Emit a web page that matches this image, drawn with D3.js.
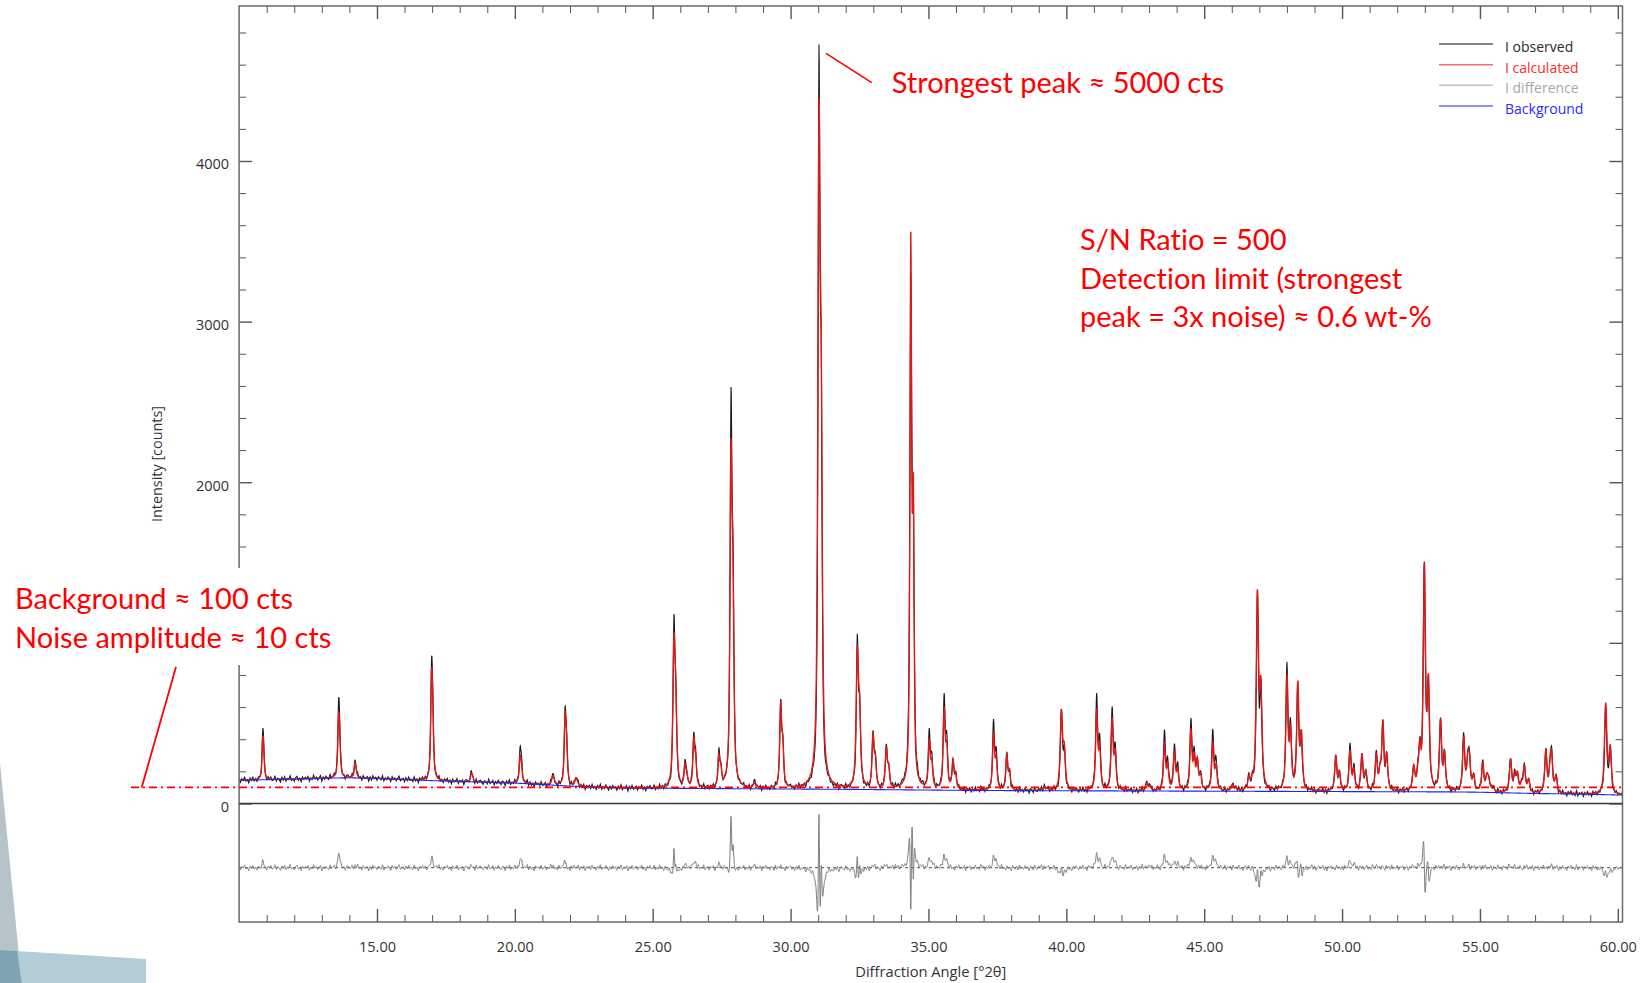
<!DOCTYPE html>
<html>
<head>
<meta charset="utf-8">
<script src="https://cdn.jsdelivr.net/npm/d3@7"></script>
<style>
  html, body { margin: 0; padding: 0; background: #fff; }
  svg { display: block; }
  text { font-variant-ligatures: none; font-feature-settings: "liga" 0; }
</style>
</head>
<body>
<svg id="chart" width="1645" height="983"></svg>
<script>
// ---- Reflections: position (°2θ), observed and calculated peak tops (counts) ----
const peakPos = [10.86, 13.61, 14.20, 16.98, 18.42, 20.19, 21.37, 21.82, 22.21, 25.77,
                 26.17, 26.49, 27.40, 27.84, 28.68, 29.64, 31.03, 32.42, 32.99, 33.47,
                 34.36, 35.03, 35.57, 35.89, 37.36, 37.84, 39.20, 39.82, 41.10, 41.66,
                 42.92, 43.56, 43.92, 44.52, 44.75, 45.31, 46.02, 46.62, 46.93, 48.00,
                 48.39, 49.77, 50.29, 50.72, 51.24, 51.48, 52.60, 52.82, 52.98, 53.57,
                 54.41, 54.62, 55.10, 55.32, 56.11, 56.36, 56.61, 57.39, 57.60, 59.56];
const obsTop  = [451, 659, 266, 904, 198, 358, 182, 603, 167, 1180,
                 271, 462, 333, 2592, 136, 640, 4729, 1060, 458, 370,
                 3305, 474, 690, 279, 520, 312, 111, 586, 686, 617,
                 146, 453, 379, 537, 300, 464, 126, 188, 1319, 873,
                 758, 302, 379, 312, 323, 520, 250, 416, 1505, 541,
                 431, 330, 266, 170, 288, 200, 244, 344, 337, 603];
const calcTop = [416, 565, 250, 842, 188, 302, 173, 572, 160, 1060,
                 250, 416, 312, 2272, 130, 634, 4393, 987, 447, 354,
                 3560, 406, 603, 279, 447, 312, 105, 586, 593, 540,
                 130, 375, 333, 468, 290, 385, 120, 180, 1333, 806,
                 769, 302, 333, 312, 315, 515, 240, 400, 1495, 530,
                 420, 320, 260, 170, 280, 200, 240, 340, 330, 628];
// Refinement misfit of the calculated profile: position offset (°) and width factor
const calcShift = [0, 0, 0, 0, 0, 0, 0, 0.004, 0, 0,
                   0, 0, 0, 0, 0, 0, 0, 0, 0, 0,
                   0, 0, 0, 0, 0, 0, 0, 0, 0, 0,
                   0, 0, 0, 0, 0, 0, 0, 0, 0, 0,
                   0.006, 0, 0, 0, 0, 0, 0, 0, 0.009, 0,
                   0, 0, 0, 0, 0, 0, 0, 0, 0, 0];
const calcBroad = [1, 1, 1, 1, 1, 1, 1, 1, 1, 1.2,
                   1, 1, 1, 1.1, 1, 1, 1.2, 1.2, 1, 1,
                   0.85, 1, 1, 1, 1, 1, 1, 1.15, 1, 1,
                   1, 1, 1, 1, 1, 1, 1, 1, 1.12, 1,
                   1, 1, 1, 1, 1, 1, 1, 1, 1, 1,
                   1, 1, 1, 1, 1, 1, 1, 1, 1, 1.1];

// ---- Refined background (°2θ, counts) ----
const bgAngle  = [10.0, 11, 12, 13, 14, 15, 16, 17, 18, 19, 20, 21, 22, 23, 24, 25, 26, 28, 30,
                  32, 34, 36, 38, 40, 42, 44, 46, 48, 50, 52, 54, 55, 56, 57, 58, 59, 60.17];
const bgCounts = [145, 148, 152, 157, 160, 156, 149, 142, 137, 132, 127, 118, 108, 101, 97, 95, 94, 92, 90,
                  88, 85, 82, 80, 79, 78, 77, 76, 75, 74, 73, 72, 70, 66, 62, 60, 57, 52];

// ---- Counting-statistics residual of the measurement, 0.05° steps from 10.0 °2θ (counts) ----
const residual = [
  6,-14,9,-3,17,-8,2,-19,11,-5,14,-10,4,-16,8,1,-12,20,-7,3,-15,10,-2,13,-9,
  -4,18,-11,7,-1,-17,12,-6,15,-13,5,-3,21,-9,0,-14,8,16,-10,4,-18,11,-5,9,-2,
  13,-16,3,-8,19,-4,7,-12,1,15,-20,6,-9,10,-3,-13,17,-6,2,12,-15,8,-1,-11,14,
  -7,4,-18,9,11,-5,-2,16,-14,3,-10,20,-8,5,-16,13,-4,0,9,-19,7,-12,15,-3,6,
  -13,10,2,-9,18,-15,5,-6,12,-1,-17,14,-4,8,-11,3,19,-10,-2,7,-14,11,-7,16,-5,
  1,-12,17,-8,4,-20,9,-3,13,-6,10,-15,2,6,-9,15,-13,-1,11,-4,18,-11,3,-16,8,
  -2,14,-10,5,-18,12,-7,1,16,-14,4,-5,9,-21,7,10,-3,-12,13,-6,2,-17,15,-9,6,
  11,-4,-15,8,3,-11,19,-8,-1,12,-16,6,-7,14,-2,-13,9,4,-19,10,-5,17,-12,2,-8,
  15,-6,7,-17,1,13,-10,5,-3,18,-14,9,-11,4,-20,12,-2,6,-9,16,-7,-4,11,-15,3,
  -9,20,-5,10,-13,2,-16,14,-8,7,-1,-12,17,-3,5,-18,11,-6,13,-10,1,15,-14,8,-4,
  12,-19,6,-2,9,-11,16,-7,3,-15,10,-5,19,-13,4,-8,14,-1,-17,7,-10,12,-3,5,-16,
  9,-7,18,-12,2,-4,13,-20,8,-6,15,-9,1,11,-14,6,-3,17,-11,4,-18,10,-1,14,-8,
  -5,16,-13,3,-9,19,-6,7,-15,12,-2,-10,8,-17,14,-4,5,-12,20,-7,1,-14,9,-3,11,
  -16,6,-8,13,-1,-19,10,-5,15,-11,4,-7,18,-13,2,9,-15,7,-3,12,-20,5,-9,16,-6,
  3,-11,14,-4,8,-17,11,-2,-13,19,-8,6,-14,10,-5,1,16,-12,4,-9,13,-16,7,-1,18,
  -10,5,-6,12,-18,9,-3,15,-7,2,-14,11,-1,-16,17,-9,6,-4,13,-12,3,-19,10,-5,8,
  14,-8,1,-15,11,-6,20,-10,4,-3,9,-17,13,-2,7,-12,15,-5,-9,18,-14,2,-7,12,-1,
  -18,10,-4,16,-9,3,-13,8,-6,14,-20,6,11,-3,-11,17,-7,1,-15,9,-2,13,-10,5,-16,
  7,-3,19,-12,5,-8,12,-17,2,10,-6,15,-14,4,-1,-18,11,-9,16,-4,8,-13,3,-7,14,
  -12,17,-5,9,-15,1,13,-8,6,-19,11,-2,-10,16,-6,3,-14,20,-11,7,-4,12,-16,2,-9,
  10,-15,4,-7,18,-13,8,-1,-11,14,-5,9,-18,6,2,-12,15,-8,3,-16,11,-3,17,-10,5,
  -6,13,-19,7,-2,11,-14,4,-9,16,-7,1,-13,19,-4,10,-17,5,-8,12,-1,-15,9,-5,15,
  -3,8,-12,18,-9,2,-16,12,-6,5,-20,14,-1,-10,9,-14,17,-7,4,-11,13,-4,6,-18,10,
  2,-14,16,-5,-8,12,-3,19,-15,7,-9,1,14,-12,5,-6,18,-10,3,-17,8,-2,11,-13,4,
  -11,15,-7,3,-17,10,-4,13,-2,-14,8,-6,16,-9,1,-19,12,-3,7,-12,17,-8,2,-15,9,
  6,-5,-13,17,-10,4,-1,14,-18,8,-7,11,-3,-16,13,-5,2,-12,19,-9,5,-2,15,-14,3,
  -8,12,-16,6,-4,20,-11,7,-2,-15,10,-6,14,-13,3,-9,16,-1,-18,9,-5,11,-12,4,-17,
  13,-2,8,-14,5,-10,17,-6,-3,12,-19,9,-8,15,-4,1,-13,18,-7,6,-16,10,-1,14,-11,
  4,-18,11,-3,9,-12,2,-7,19,-15,6,-1,13,-9,-5,16,-14,8,-2,10,-20,12,-6,3,-10,
  17,-9,5,-16,1,14,-11,7,-4,-13,18,-6,3,-8,11,-17,9,-2,15,-12,4,-5,13,-19,7,
  -1,-12,16,-7,10,-3,-15,12,-9,2,8,-18,14,-5,6,-11,19,-13,1,-4,11,-16,7,-8,13,
  -14,5,-2,18,-10,9,-17,3,11,-6,-1,15,-13,7,-20,10,-4,12,-8,2,-15,16,-5,6,-11,
  8,-16,13,-4,-9,17,-7,1,-12,14,-3,6,-18,11,-5,9,-14,2,16,-10,5,-13,19,-6,-2,
  12,-8,4,-15,10,-1,-19,13,-5,8,-11,18,-9,3,-6,15,-16,7,-2,12,-14,1,9,-17,6,
  -4,14,-10,2,-13,19,-6,9,-16,5,-1,11,-20,8,-7,13,-3,-11,17,-5,10,-12,3,-8,16,
  -15,7,-3,12,-18,4,10,-9,15,-2,-14,6,-7,17,-11,1,-5,14,-19,9,-4,11,-13,5,-1,
  11,-17,8,-6,16,-12,3,-4,13,-15,9,-1,-10,18,-7,5,-16,12,-2,7,-13,20,-9,2,-6,
  15,-11,1,-8,14,-5,-16,10,-3,17,-12,4,-9,13,-18,8,-1,11,-14,6,-7,16,-10,3,-13,
  9,-4,18,-15,5,-2,12,-19,7,-10,14,-6,1,-17,11,-3,15,-8,4,-12,19,-14,6,-1,10,
  -16,8,-5,13,-9,2,-18,14,-4,10,-13,7,-7,16,-1,-12,9,-15,5,-3,17,-11,2,-6,12,
  -8,4,-2,7
];

// ---- Axis ticks and labels ----
const xTicks = [15, 20, 25, 30, 35, 40, 45, 50, 55, 60];
const yTicks = [0, 1000, 2000, 3000, 4000];
const yLabels = [0, 2000, 3000, 4000];   // the 1000 label sits under the note box
const diffOffset = -400;       // difference curve is drawn around this level
const backgroundLevel = 100;   // dash-dot reference line

const legendLabels = ["I observed", "I calculated", "I difference", "Background"];
const legendLine   = ["#5a5a5a", "#ff6a6a", "#c4c4c4", "#6a6aff"];
const legendText   = ["#2a2a2a", "#ff2a2a", "#a8a8a8", "#2a2aff"];

const noteLeft  = ["Background \u2248 100 cts", "Noise amplitude \u2248 10 cts"];
const notePeak  = "Strongest peak \u2248 5000 cts";
const noteRight = ["S/N Ratio = 500", "Detection limit (strongest", "peak = 3x noise) \u2248 0.6 wt-%"];

// ---------------------------------------------------------------------------
const svg = d3.select("#chart");
const X0 = 239.1, X1 = 1622.5, Y0 = 6, Y1 = 922;
const x = d3.scaleLinear().domain([10, 60.17]).range([X0, X1]);
const y = d3.scaleLinear().domain([-738, 4965]).range([Y1, Y0]);
const bgAt = d3.scaleLinear().domain(bgAngle).range(bgCounts).clamp(true);

// Corner decoration of the slide
const deco = svg.append("g");
deco.append("path").attr("d", "M0,763 L21.7,983 L0,983 Z").attr("fill", "#b6c4c9");
deco.append("path").attr("d", "M0,950 L146,959 L146,983 L0,983 Z").attr("fill", "#b4ccd6");
deco.append("path").attr("d", "M0,950 L17.3,951 L21.7,983 L0,983 Z").attr("fill", "#80a3b2");

// Cu Kα1/Kα2 pseudo-Voigt profile
const K2_RATIO = 0.5, LAMBDA_RATIO = 1.54443 / 1.54056, ETA = 0.72;
const rad = Math.PI / 180;
const k2Pos = tt => 2 * Math.asin(Math.sin(tt / 2 * rad) * LAMBDA_RATIO) / rad;
const fwhm = tt => 0.07 + 0.0005 * (tt - 10);
function pv(dx, f) {
  const u = dx / f;
  return ETA / (1 + 4 * u * u) + (1 - ETA) * Math.exp(-2.7725887 * u * u);
}
function reflection(tt, p, f) { return pv(tt - p, f) + K2_RATIO * pv(tt - k2Pos(p), f); }

function sumPeaks(tt, amps, shifts, broad) {
  let s = 0;
  for (let i = 0; i < peakPos.length; i++) {
    const p = peakPos[i] + shifts[i];
    if (Math.abs(tt - p) > 5) continue;
    s += amps[i] * reflection(tt, p, fwhm(p) * broad[i]);
  }
  return s;
}
// Scale each reflection so the summed profile reaches the read peak top
function fitAmps(tops, shifts, broad) {
  const net = tops.map((t, i) => Math.max(t - bgAt(peakPos[i]), 4));
  let amps = net.slice();
  for (let it = 0; it < 30; it++) {
    amps = amps.map((a, i) => {
      const m = sumPeaks(peakPos[i] + shifts[i], amps, shifts, broad);
      return Math.max(a * net[i] / m, 0.5);
    });
  }
  return amps;
}
const zeros = peakPos.map(() => 0), ones = peakPos.map(() => 1);
const obsAmps = fitAmps(obsTop, zeros, ones);
const calcAmps = fitAmps(calcTop, calcShift, calcBroad);

const resAt = d3.scaleLinear().domain(residual.map((_, i) => 10 + i * 0.05)).range(residual).clamp(true);

const grid = d3.range(10, 60.17, 0.01);
const observed = grid.map(t => [t, bgAt(t) + sumPeaks(t, obsAmps, zeros, ones) + resAt(t)]);
const calculated = grid.map(t => [t, bgAt(t) + sumPeaks(t, calcAmps, calcShift, calcBroad)]);
const difference = observed.map((d, i) => [d[0], diffOffset + d[1] - calculated[i][1]]);
const background = grid.map(t => [t, bgAt(t)]);

// ---- Plot area ----
svg.append("defs").append("clipPath").attr("id", "plotClip")
  .append("rect").attr("x", X0).attr("y", Y0).attr("width", X1 - X0).attr("height", Y1 - Y0);
const plot = svg.append("g").attr("clip-path", "url(#plotClip)");
const line = d3.line().x(d => x(d[0])).y(d => y(d[1]));

plot.append("line").attr("x1", X0).attr("x2", X1).attr("y1", y(diffOffset)).attr("y2", y(diffOffset))
  .attr("stroke", "#444").attr("stroke-width", 1).attr("stroke-dasharray", "3,3");
plot.append("path").datum(difference).attr("d", line)
  .attr("fill", "none").attr("stroke", "#808080").attr("stroke-width", 1);
plot.append("path").datum(observed).attr("d", line)
  .attr("fill", "none").attr("stroke", "#1a1a1a").attr("stroke-width", 1.1);
plot.append("path").datum(calculated).attr("d", line)
  .attr("fill", "none").attr("stroke", "#e01818").attr("stroke-width", 1.4);
plot.append("path").datum(background).attr("d", line)
  .attr("fill", "none").attr("stroke", "#2424ee").attr("stroke-width", 1.1);

// ---- Axes: inward ticks on all four sides ----
const minorX = d3.range(11, 61, 1).filter(v => v % 5 !== 0);
const minorY = d3.range(200, 4801, 200).filter(v => v % 1000 !== 0);
const tickStyle = g => {
  g.select(".domain").remove();
  g.selectAll(".tick line").attr("stroke", "#555");
};
const fmt = d3.format(".2f");

svg.append("g").attr("transform", `translate(0,${Y1})`)
  .call(d3.axisBottom(x).tickValues(xTicks).tickSize(-13).tickPadding(20).tickFormat(fmt))
  .call(tickStyle)
  .call(g => g.selectAll(".tick line").attr("stroke-width", 1.4))
  .call(g => g.selectAll("text").attr("font-family", "'Open Sans', sans-serif")
      .attr("font-size", 14.5).attr("fill", "#333"));
svg.append("g").attr("transform", `translate(0,${Y1})`)
  .call(d3.axisBottom(x).tickValues(minorX).tickSize(-7).tickFormat(""))
  .call(tickStyle);
svg.append("g").attr("transform", `translate(0,${Y0})`)
  .call(d3.axisTop(x).tickValues(xTicks).tickSize(-13).tickFormat(""))
  .call(tickStyle)
  .call(g => g.selectAll(".tick line").attr("stroke-width", 1.4));
svg.append("g").attr("transform", `translate(0,${Y0})`)
  .call(d3.axisTop(x).tickValues(minorX).tickSize(-7).tickFormat(""))
  .call(tickStyle);

svg.append("g").attr("transform", `translate(${X0},0)`)
  .call(d3.axisLeft(y).tickValues(yTicks).tickSize(-13).tickPadding(10)
      .tickFormat(d => yLabels.includes(d) ? d3.format("d")(d) : ""))
  .call(tickStyle)
  .call(g => g.selectAll(".tick line").attr("stroke-width", 1.4))
  .call(g => g.selectAll("text").attr("dy", "0.55em").attr("font-family", "'Open Sans', sans-serif")
      .attr("font-size", 14.5).attr("fill", "#333"));
svg.append("g").attr("transform", `translate(${X0},0)`)
  .call(d3.axisLeft(y).tickValues(minorY).tickSize(-7).tickFormat(""))
  .call(tickStyle);
svg.append("g").attr("transform", `translate(${X1},0)`)
  .call(d3.axisRight(y).tickValues(yTicks).tickSize(-13).tickFormat(""))
  .call(tickStyle)
  .call(g => g.selectAll(".tick line").attr("stroke-width", 1.4));
svg.append("g").attr("transform", `translate(${X1},0)`)
  .call(d3.axisRight(y).tickValues(minorY).tickSize(-7).tickFormat(""))
  .call(tickStyle);

// Frame and zero line
svg.append("rect").attr("x", X0).attr("y", Y0).attr("width", X1 - X0).attr("height", Y1 - Y0)
  .attr("fill", "none").attr("stroke", "#6a6a6a").attr("stroke-width", 1.5);
svg.append("line").attr("x1", X0).attr("x2", X1).attr("y1", y(0)).attr("y2", y(0))
  .attr("stroke", "#3c3c3c").attr("stroke-width", 1.6);

// Axis titles
svg.append("text").attr("x", (X0 + X1) / 2).attr("y", 977).attr("text-anchor", "middle")
  .attr("font-family", "'Open Sans', sans-serif").attr("font-size", 14.7).attr("fill", "#333")
  .text("Diffraction Angle [°2\u03b8]");
svg.append("text").attr("transform", `translate(162,${(Y0 + Y1) / 2}) rotate(-90)`)
  .attr("text-anchor", "middle").attr("font-family", "'Open Sans', sans-serif")
  .attr("font-size", 14.4).attr("fill", "#333").text("Intensity [counts]");

// Legend
const legend = svg.append("g").attr("font-family", "'Open Sans', sans-serif").attr("font-size", 14);
legendLabels.forEach((lab, i) => {
  const ry = 44 + i * 20.65;
  legend.append("line").attr("x1", 1439).attr("x2", 1493).attr("y1", ry).attr("y2", ry)
    .attr("stroke", legendLine[i]).attr("stroke-width", 1.5);
  legend.append("text").attr("x", 1505).attr("y", ry + 8).attr("fill", legendText[i]).text(lab);
});

// ---- Annotations ----
const red = "#ff0000";
svg.append("line").attr("x1", 131).attr("x2", X1).attr("y1", y(backgroundLevel)).attr("y2", y(backgroundLevel))
  .attr("stroke", red).attr("stroke-width", 1.8).attr("stroke-dasharray", "8,4,2,4");

svg.append("rect").attr("x", 0).attr("y", 568).attr("width", 335).attr("height", 97).attr("fill", "#fff");
const noteFont = "Lato, 'Open Sans', sans-serif";
const noteSize = 29;
noteLeft.forEach((t, i) => {
  svg.append("text").attr("x", 15).attr("y", 609 + i * 38.6).attr("font-family", noteFont)
    .attr("font-size", noteSize).attr("fill", red).text(t);
});
svg.append("line").attr("x1", 141.7).attr("y1", y(backgroundLevel)).attr("x2", 176).attr("y2", 667)
  .attr("stroke", red).attr("stroke-width", 1.8);

svg.append("text").attr("x", 891.7).attr("y", 93).attr("font-family", noteFont)
  .attr("font-size", noteSize).attr("fill", red).text(notePeak);
svg.append("line").attr("x1", 826).attr("y1", 53.3).attr("x2", 871.7).attr("y2", 82.7)
  .attr("stroke", red).attr("stroke-width", 1.6);

noteRight.forEach((t, i) => {
  svg.append("text").attr("x", 1080).attr("y", 250 + i * 38.5).attr("font-family", noteFont)
    .attr("font-size", noteSize).attr("fill", red).text(t);
});
</script>
</body>
</html>
